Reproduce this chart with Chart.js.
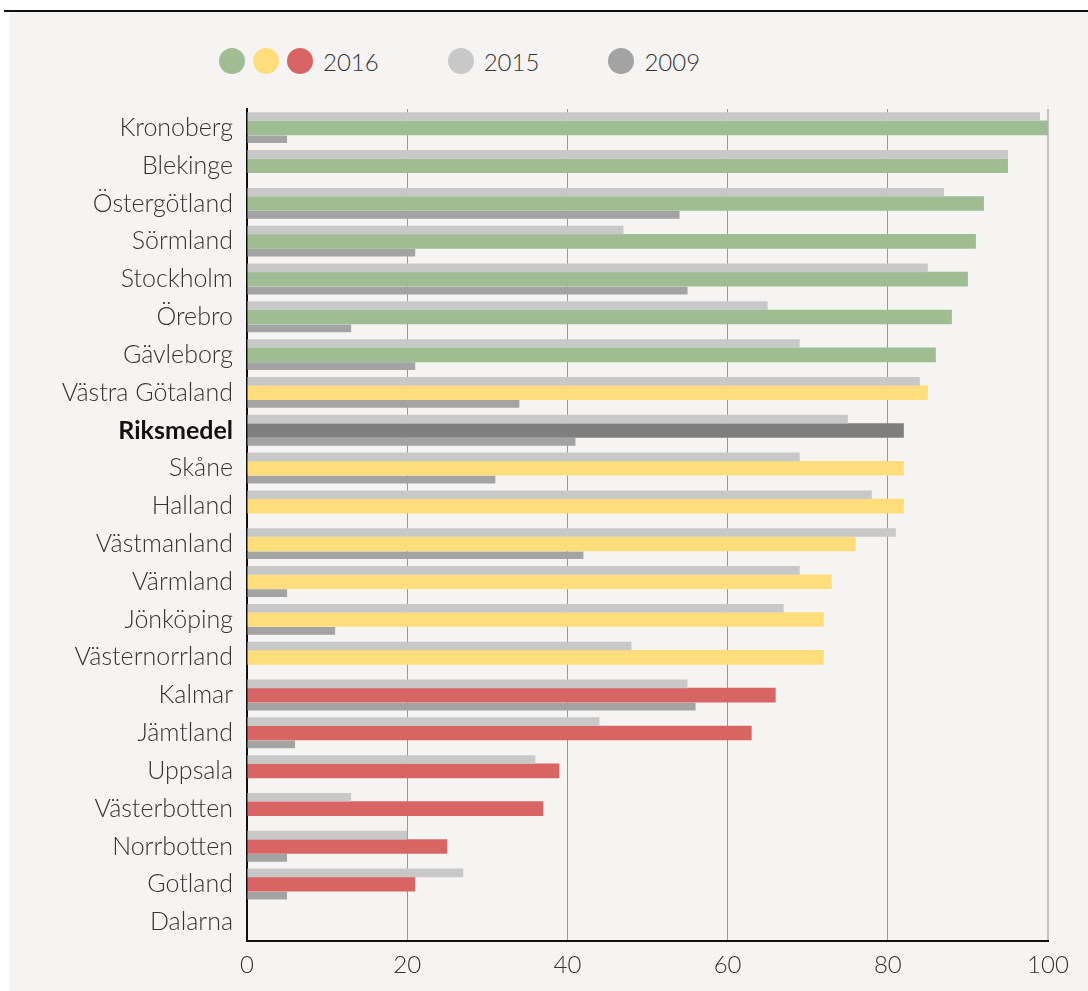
<!DOCTYPE html>
<html lang="sv">
<head>
<meta charset="utf-8">
<script src="https://cdn.jsdelivr.net/npm/chart.js@4.4.1/dist/chart.umd.min.js"></script>
<style>
  html, body { margin: 0; padding: 0; background: #fff; }
  body { width: 1088px; height: 991px; position: relative; overflow: hidden; font-family: Lato, sans-serif; }
  .rule { position: absolute; left: 4px; top: 10px; width: 1084px; height: 2px; background: #111; }
  .panel { position: absolute; left: 9px; top: 12px; right: 0; bottom: 0; background: #f5f4f2; }
  .legend { position: absolute; left: 219px; top: 47px; height: 28px; display: flex; align-items: center;
            font-weight: 300; font-size: 24px; color: #333; }
  .dot { width: 26px; height: 26px; border-radius: 50%; margin-right: 8px; }
  .legend .txt { margin-left: 2px; margin-right: 69px; }
  #chart { position: absolute; left: 0; top: 0; }
</style>
</head>
<body>
<div class="rule"></div>
<div class="panel"></div>
<div class="legend" id="legend"></div>
<canvas id="chart" width="1088" height="991"></canvas>
<script>
// regions, top to bottom
const regions = ['Kronoberg', 'Blekinge', 'Östergötland', 'Sörmland', 'Stockholm', 'Örebro', 'Gävleborg',
  'Västra Götaland', 'Riksmedel', 'Skåne', 'Halland', 'Västmanland', 'Värmland', 'Jönköping',
  'Västernorrland', 'Kalmar', 'Jämtland', 'Uppsala', 'Västerbotten', 'Norrbotten', 'Gotland', 'Dalarna'];

const values2016 = [100, 95, 92, 91, 90, 88, 86, 85, 82, 82, 82, 76, 73, 72, 72, 66, 63, 39, 37, 25, 21, null];
const values2015 = [99, 95, 87, 47, 85, 65, 69, 84, 75, 69, 78, 81, 69, 67, 48, 55, 44, 36, 13, 20, 27, null];
const values2009 = [5, null, 54, 21, 55, 13, 21, 34, 41, 31, null, 42, 5, 11, null, 56, 6, null, null, 5, 5, null];

// 2016 classification (colour group)
const level2016 = ['high', 'high', 'high', 'high', 'high', 'high', 'high',
  'mid', 'avg', 'mid', 'mid', 'mid', 'mid', 'mid', 'mid',
  'low', 'low', 'low', 'low', 'low', 'low', 'low'];

const years = ['2016', '2015', '2009'];
const xTicks = [0, 20, 40, 60, 80, 100];
const highlightRegion = 'Riksmedel';

const levelColors = { high: '#9ebd93', mid: '#ffdd7a', low: '#d96464', avg: '#7f7f7f' };
const color2015 = '#c8c8c8';
const color2009 = '#a3a3a3';
const font = 'Lato, "Open Sans", sans-serif';

// HTML legend: three dots for 2016, one each for 2015 and 2009
const legend = document.getElementById('legend');
const legendDots = [[levelColors.high, levelColors.mid, levelColors.low], [color2015], [color2009]];
years.forEach((y, i) => {
  legendDots[i].forEach(c => {
    const d = document.createElement('div');
    d.className = 'dot';
    d.style.background = c;
    legend.appendChild(d);
  });
  const t = document.createElement('span');
  t.className = 'txt';
  t.textContent = y;
  legend.appendChild(t);
});

new Chart(document.getElementById('chart'), {
  type: 'bar',
  data: {
    labels: regions,
    datasets: [
      { label: '2015', data: values2015, backgroundColor: color2015, categoryPercentage: 0.9, barPercentage: 0.76 },
      { label: '2016', data: values2016, backgroundColor: level2016.map(l => levelColors[l]),
        categoryPercentage: 0.9, barPercentage: 1.29 },
      { label: '2009', data: values2009, backgroundColor: color2009, categoryPercentage: 0.9, barPercentage: 0.68 }
    ]
  },
  options: {
    indexAxis: 'y',
    responsive: false,
    animation: false,
    layout: { padding: { top: 109, right: 40, left: 0, bottom: 0 } },
    plugins: { legend: { display: false }, tooltip: { enabled: false } },
    scales: {
      x: {
        min: 0, max: 100, z: 1,
        afterBuildTicks: s => { s.ticks = xTicks.map(v => ({ value: v })); },
        afterFit: s => { s.height = 50; },
        grid: {
          drawTicks: false,
          color: c => (c.tick && c.tick.value === 100) ? '#c2c2c2' : 'rgba(0,0,0,0.38)',
          lineWidth: c => (c.tick && c.tick.value === 100) ? 2 : 1
        },
        border: { color: '#111', width: 2 },
        ticks: { padding: 10, color: '#333', font: { family: font, size: 24, weight: '300' } }
      },
      y: {
        z: 1,
        afterFit: s => { s.width = 247; },
        grid: { display: false, drawTicks: false },
        border: { color: '#111', width: 2 },
        ticks: {
          padding: 14,
          color: c => regions[c.index] === highlightRegion ? '#111' : '#333',
          font: c => ({ family: font, size: 25, weight: regions[c.index] === highlightRegion ? '700' : '300' })
        }
      }
    }
  }
});
</script>
</body>
</html>
